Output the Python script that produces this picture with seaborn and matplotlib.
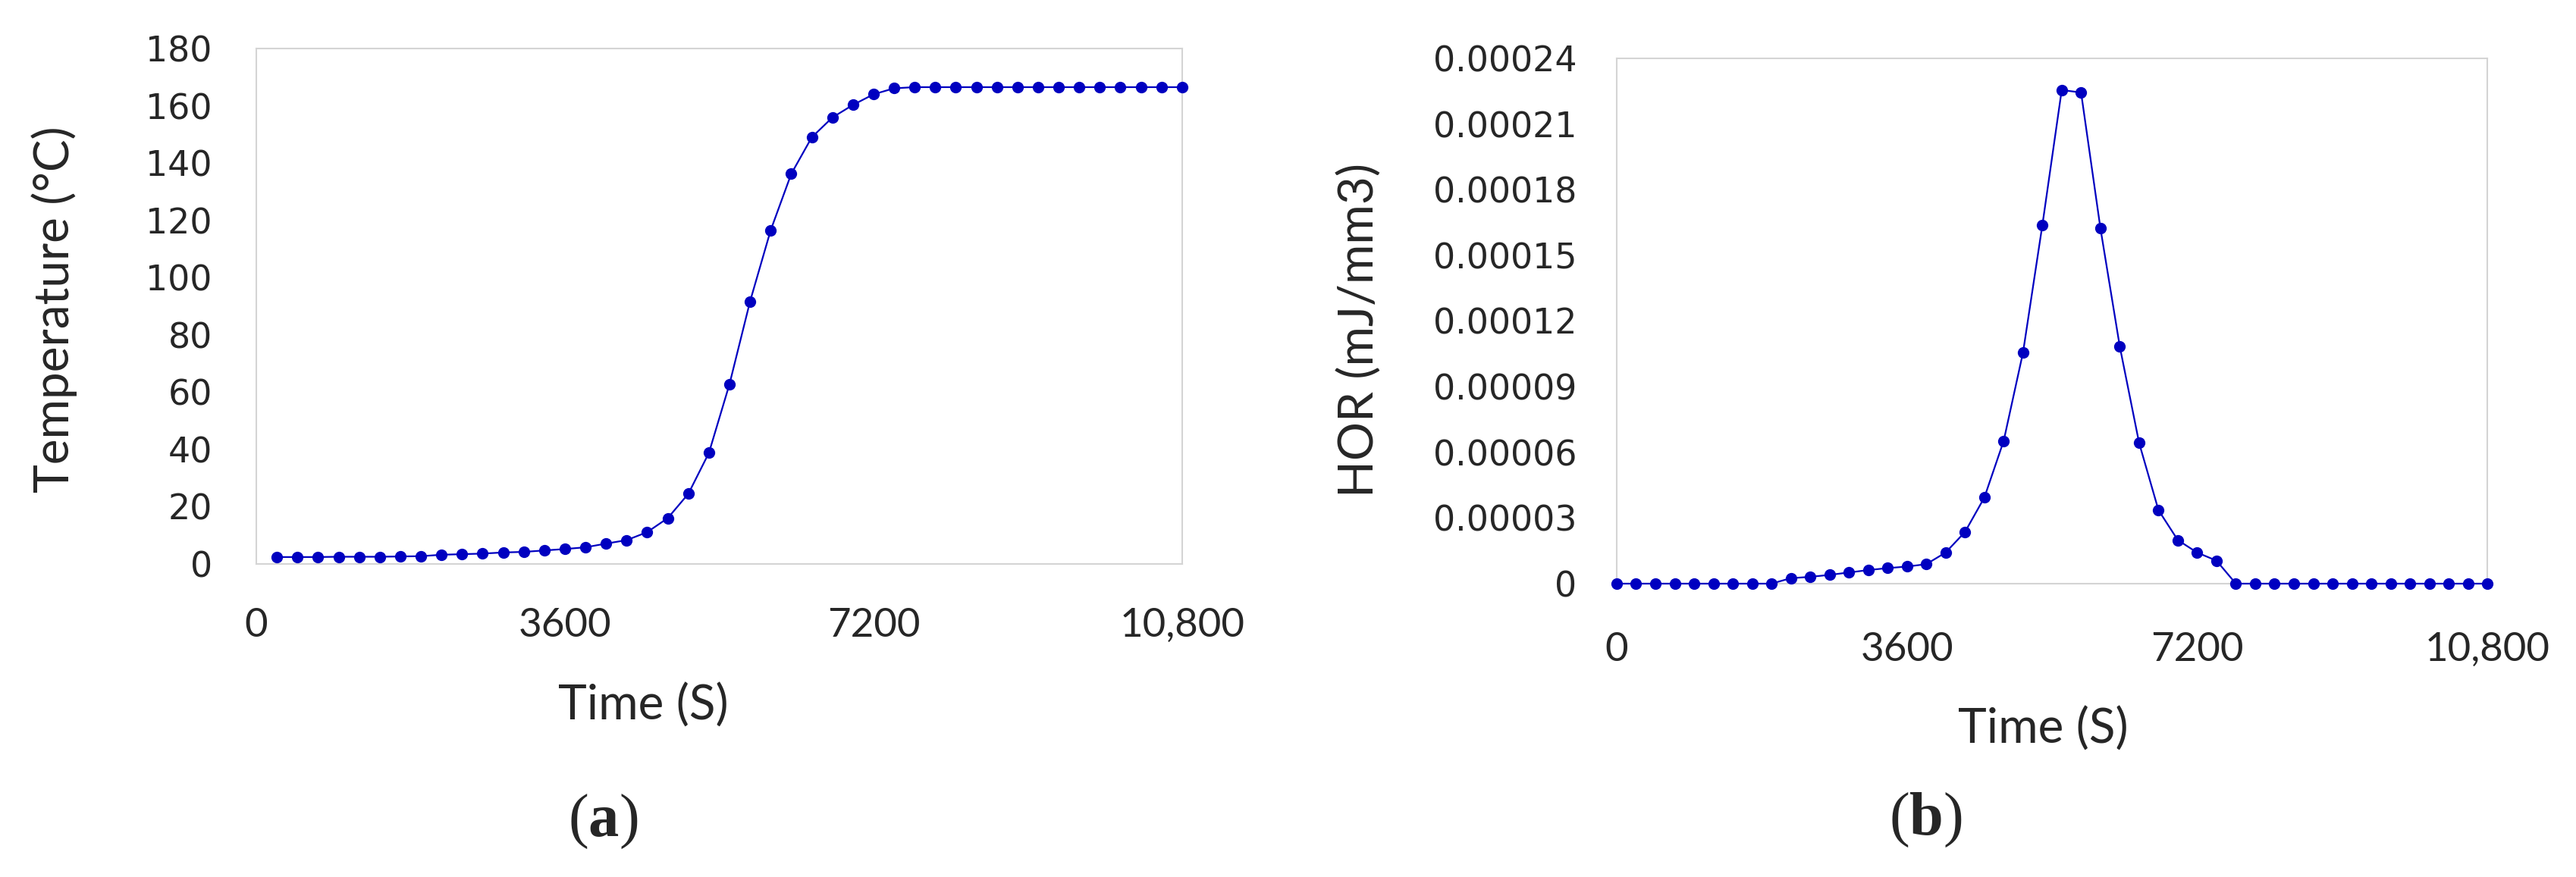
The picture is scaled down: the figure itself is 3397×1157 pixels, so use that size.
import matplotlib
matplotlib.use("Agg")
import matplotlib.pyplot as plt
import seaborn as sns
import pandas as pd

# time steps (s)
time_a = [240 * i for i in range(1, 46)]
time_b = [240 * i for i in range(0, 46)]

temperature = [
    2.4, 2.4, 2.4, 2.5, 2.5, 2.5, 2.6, 2.7,
    3.2, 3.4, 3.6, 4.0, 4.2, 4.7, 5.2, 5.8, 7.1, 8.3, 11.1, 16.0, 24.5, 38.8,
    62.8, 91.7, 116.5, 136.2, 149.0, 155.9, 160.3, 164.0, 166.1,
    166.5, 166.5, 166.5, 166.5, 166.5, 166.5, 166.5,
    166.5, 166.5, 166.5, 166.5, 166.5, 166.5, 166.5,
]

hor = [
    0, 0, 0, 0, 0, 0, 0, 0, 0,
    2.5e-6, 3.1e-6, 4.0e-6, 5.1e-6, 6.2e-6, 7.1e-6, 7.8e-6, 8.9e-6,
    1.42e-5, 2.36e-5, 3.93e-5, 6.52e-5, 1.056e-4, 1.638e-4,
    2.255e-4, 2.244e-4, 1.624e-4, 1.084e-4, 6.43e-5, 3.36e-5, 1.99e-5, 1.42e-5, 1.05e-5,
    0, 0, 0, 0, 0, 0, 0, 0, 0, 0, 0, 0, 0, 0,
]

x_ticks = [0, 3600, 7200, 10800]
x_tick_labels = ["0", "3600", "7200", "10,800"]
temp_ticks = list(range(0, 181, 20))
hor_ticks = [0, 0.00003, 0.00006, 0.00009, 0.00012, 0.00015, 0.00018, 0.00021, 0.00024]
hor_tick_labels = ["0", "0.00003", "0.00006", "0.00009", "0.00012",
                   "0.00015", "0.00018", "0.00021", "0.00024"]

sns.set_style("white")
plt.rcParams["font.family"] = ["DejaVu Sans"]
plt.rcParams["mathtext.fontset"] = "custom"
plt.rcParams["mathtext.rm"] = "Liberation Serif"
plt.rcParams["mathtext.bf"] = "Liberation Serif:bold"

narrow = ["Lato", "DejaVu Sans"]
blue = "#0000C0"
label_size = 46
xtick_size = 38
ytick_size = 33

df_a = pd.DataFrame({"time": time_a, "temp": temperature})
df_b = pd.DataFrame({"time": time_b, "hor": hor})

fig = plt.figure(figsize=(33.97, 11.57), dpi=100)
ax_a = fig.add_axes([0.0995, 0.357, 0.3594, 0.5877])
ax_b = fig.add_axes([0.6276, 0.3345, 0.338, 0.599])

sns.lineplot(data=df_a, x="time", y="temp", ax=ax_a, color=blue, linewidth=1.6,
             marker="o", markersize=11, markeredgewidth=0, clip_on=False, zorder=3)
sns.lineplot(data=df_b, x="time", y="hor", ax=ax_b, color=blue, linewidth=1.6,
             marker="o", markersize=11, markeredgewidth=0, clip_on=False, zorder=3)

for ax in (ax_a, ax_b):
    ax.set_xlim(0, 10800)
    ax.set_xticks(x_ticks)
    ax.set_xticklabels(x_tick_labels, family=narrow, fontsize=xtick_size)
    for s in ax.spines.values():
        s.set_color("#d4d4d4")
        s.set_linewidth(1.5)
    ax.tick_params(length=0)
    ax.grid(False)

ax_a.set_ylim(0, 180)
ax_a.set_yticks(temp_ticks)
ax_a.set_yticklabels([str(t) for t in temp_ticks], fontsize=ytick_size)
ax_a.tick_params(axis="y", pad=42)
ax_a.tick_params(axis="x", pad=42)

ax_b.set_ylim(0, 0.00024)
ax_b.set_yticks(hor_ticks)
ax_b.set_yticklabels(hor_tick_labels, fontsize=ytick_size)
ax_b.tick_params(axis="y", pad=38)
ax_b.tick_params(axis="x", pad=46)

ax_a.set_xlabel("Time (S)", family=narrow, fontsize=label_size)
ax_a.set_ylabel("Temperature (°C)", family=narrow, fontsize=label_size)
ax_a.xaxis.set_label_coords(0.418, -0.275)
ax_a.yaxis.set_label_coords(-0.218, 0.494)

ax_b.set_xlabel("Time (S)", family=narrow, fontsize=label_size)
ax_b.set_ylabel("HOR (mJ/mm3)", family=narrow, fontsize=label_size)
ax_b.xaxis.set_label_coords(0.490, -0.277)
ax_b.yaxis.set_label_coords(-0.295, 0.483)
for lab in (ax_a.xaxis.label, ax_b.xaxis.label):
    lab.set_va("center")
for lab in (ax_a.yaxis.label, ax_b.yaxis.label):
    lab.set_va("center")

fig.text(0.234, 0.063, r"($\mathbf{a}$)", family="Liberation Serif",
         fontsize=58, ha="center", va="center")
fig.text(0.7474, 0.0648, r"($\mathbf{b}$)", family="Liberation Serif",
         fontsize=58, ha="center", va="center")

fig.savefig("out.png", dpi=100, facecolor="white")
